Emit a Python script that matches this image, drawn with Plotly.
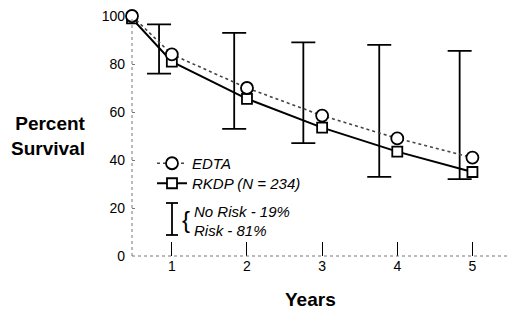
import plotly.graph_objects as go

# ---- data ----
years = [0.47, 1, 2, 3, 4, 5]
edta = [100, 84, 70, 58.5, 49, 41]
rkdp = [99, 81, 65.5, 53.5, 43.5, 35]
bar_x = [0.83, 1.83, 2.75, 3.76, 4.83]
bar_hi = [96.5, 93, 89, 88, 85.5]
bar_lo = [76, 53, 47, 33, 32]
x_ticks = [1, 2, 3, 4, 5]
y_ticks = [0, 20, 40, 60, 80, 100]

W, H = 511, 314
L, R, T, B = 132, 1, 16, 58
PW, PH = W - L - R, H - T - B


def px(p):
    return (p - L) / PW


def py(p):
    return (H - B - p) / PH


FONT = "Liberation Sans, Arial, Helvetica, sans-serif"

fig = go.Figure()

mid = [(h + l) / 2 for h, l in zip(bar_hi, bar_lo)]
half = [(h - l) / 2 for h, l in zip(bar_hi, bar_lo)]
fig.add_trace(go.Scatter(
    x=bar_x, y=mid, mode="markers",
    marker=dict(size=1, color="rgba(0,0,0,0)"),
    error_y=dict(type="data", array=half, symmetric=True,
                 color="black", thickness=1.8, width=12),
    showlegend=False, hoverinfo="skip", cliponaxis=False,
))
fig.add_trace(go.Scatter(
    x=years, y=rkdp, mode="lines+markers", name="RKDP (N = 234)",
    line=dict(color="black", width=2),
    marker=dict(symbol="square", size=10, color="white",
                line=dict(color="black", width=1.8)),
    legend="legend2", cliponaxis=False,
))
fig.add_trace(go.Scatter(
    x=years, y=edta, mode="lines+markers", name="EDTA",
    line=dict(color="#444444", width=1.6, dash="dot"),
    marker=dict(symbol="circle", size=12, color="white",
                line=dict(color="black", width=1.8)),
    legend="legend", cliponaxis=False,
))

shapes = [
    # dotted axis lines
    dict(type="line", xref="x domain", yref="y domain", x0=0, x1=0, y0=0, y1=1,
         line=dict(color="#777777", width=1, dash="dot")),
    dict(type="line", xref="x domain", yref="y domain", x0=0, x1=1, y0=0, y1=0,
         line=dict(color="#777777", width=1, dash="dot")),
    # error-bar legend icon
    dict(type="line", xref="paper", yref="paper", x0=px(172), x1=px(172),
         y0=py(203), y1=py(235), line=dict(color="black", width=1.8)),
    dict(type="line", xref="paper", yref="paper", x0=px(166), x1=px(178),
         y0=py(203), y1=py(203), line=dict(color="black", width=1.8)),
    dict(type="line", xref="paper", yref="paper", x0=px(166), x1=px(178),
         y0=py(235), y1=py(235), line=dict(color="black", width=1.8)),
]

annotations = [
    dict(text="<b>Percent<br>Survival</b>", xref="paper", yref="paper",
         x=px(88), y=py(135.5), xanchor="right", yanchor="middle", align="right",
         showarrow=False, font=dict(family=FONT, size=19, color="black")),
    dict(text="<b>Years</b>", xref="paper", yref="paper",
         x=px(310), y=py(299), xanchor="center", yanchor="middle",
         showarrow=False, font=dict(family=FONT, size=19, color="black")),
    dict(text="{", xref="paper", yref="paper", x=px(186), y=py(219),
         xanchor="center", yanchor="middle", showarrow=False,
         font=dict(family=FONT, size=24, color="black")),
    dict(text="No Risk - 19%", xref="paper", yref="paper", x=px(192), y=py(211),
         xanchor="left", yanchor="middle", showarrow=False,
         font=dict(family=FONT, size=15, color="black", style="italic")),
    dict(text="Risk - 81%", xref="paper", yref="paper", x=px(192), y=py(230),
         xanchor="left", yanchor="middle", showarrow=False,
         font=dict(family=FONT, size=15, color="black", style="italic")),
]

leg_font = dict(family=FONT, size=15, color="black", style="italic")

fig.update_layout(
    width=W, height=H,
    margin=dict(l=L, r=R, t=T, b=B, pad=0),
    paper_bgcolor="white", plot_bgcolor="white",
    font=dict(family=FONT, size=14, color="black"),
    showlegend=True,
    legend=dict(x=px(152), y=py(147), xanchor="left", yanchor="top",
                bgcolor="rgba(0,0,0,0)", font=leg_font),
    legend2=dict(x=px(152), y=py(167), xanchor="left", yanchor="top",
                 bgcolor="rgba(0,0,0,0)", font=leg_font),
    xaxis=dict(range=[0.47, 5.5], tickvals=x_ticks, ticktext=[str(v) for v in x_ticks],
               ticks="inside", ticklen=14, tickwidth=1, tickcolor="black",
               showgrid=False, zeroline=False, showline=False,
               tickfont=dict(family=FONT, size=14, color="black")),
    yaxis=dict(range=[0, 100], tickvals=y_ticks, ticktext=[str(v) for v in y_ticks],
               ticks="inside", ticklen=3, tickwidth=1, tickcolor="#777777",
               showgrid=False, zeroline=False, showline=False,
               ticklabelstandoff=6,
               tickfont=dict(family=FONT, size=14, color="black")),
    shapes=shapes, annotations=annotations,
)

fig.write_html("out.html",
               config={"displayModeBar": False},
               post_script="document.body.style.margin='0';document.body.style.padding='0';")
